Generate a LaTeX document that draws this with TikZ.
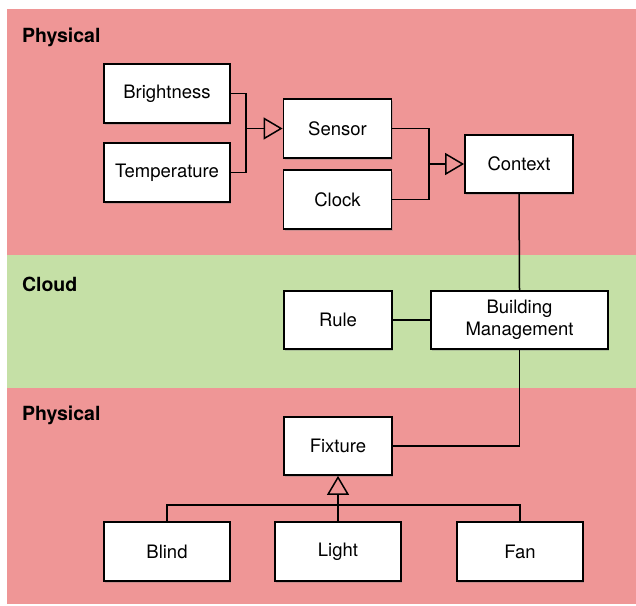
\documentclass[tikz,border=0pt]{standalone}
\usepackage{fontspec}
\setmainfont{TeX Gyre Heros}
\usepackage{tikz}
\usetikzlibrary{arrows.meta}
\usetikzlibrary{shadows}

\definecolor{physred}{RGB}{239,150,150}
\definecolor{cloudgreen}{RGB}{197,224,166}

\begin{document}
\begin{tikzpicture}[x=1pt, y=-1pt,
    block/.style={draw, line width=1.8pt, fill=white, minimum width=108pt, minimum height=58pt,
        font=\fontsize{18.5}{22}\selectfont, align=center,
        drop shadow={shadow xshift=1pt, shadow yshift=-1.5pt, opacity=0.35}},
    wide/.style={block, minimum width=126pt, minimum height=59pt},
    heading/.style={anchor=west, font=\fontsize{19.5}{22}\selectfont\bfseries},
    link/.style={line width=1.5pt},
    inherit/.style={link, -{Triangle[open, length=19pt, width=22pt, line width=1.5pt]}}]
        \useasboundingbox (0,0) rectangle (636,605);

        % bands
        \fill[physred] (7,9) rectangle (636,255);
        \fill[cloudgreen] (7,255) rectangle (636,388);
        \fill[physred] (7,388) rectangle (636,604);
        \node[heading] (PhysTop) at (18.5,37) {Physical};
        \node[heading] (Cloud) at (18.5,284) {Cloud};
        \node[heading] (PhysBottom) at (18.5,415) {Physical};

        \node[wide] (Brightness) at (167,93.5) {Brightness};
        \node[wide] (Temperature) at (167,172.5) {Temperature};
        \node[block, minimum height=59pt] (Sensor) at (337.5,128.5) {Sensor};
        \node[block, minimum height=59pt] (Clock) at (337.5,199.5) {Clock};
        \node[block] (Context) at (519,164) {Context};
        \node[block] (Rule) at (338,320) {Rule};
        \node[block, minimum width=177pt] (Building) at (519.5,320) {Building\\Management};
        \node[block] (Fixture) at (338,446) {Fixture};
        \node[wide] (Blind) at (167,551.5) {Blind};
        \node[wide] (Light) at (338,551.5) {Light};
        \node[wide] (Fan) at (520,551.5) {Fan};

        \coordinate (SensorJoin) at (246,128.5);
        \coordinate (ContextJoin) at (429,164);
        \coordinate (FixtureBus) at (338,505);

        \draw[link] (Brightness.east) -| (SensorJoin) |- (Temperature.east);
        \draw[inherit] (SensorJoin) -- (Sensor.west);
        \draw[link] (Sensor.east) -| (ContextJoin) |- (Clock.east);
        \draw[inherit] (ContextJoin) -- (Context.west);

        \draw[link] (Context.south) -- (Building.north);
        \draw[link] (Rule.east) -- (Building.west);
        \draw[link] (Building.south) |- (Fixture.east);

        \draw[link] (Blind.north) |- (FixtureBus) -| (Fan.north);
        \draw[inherit] (Light.north) -- (Fixture.south);

    \end{tikzpicture}
\end{document}
